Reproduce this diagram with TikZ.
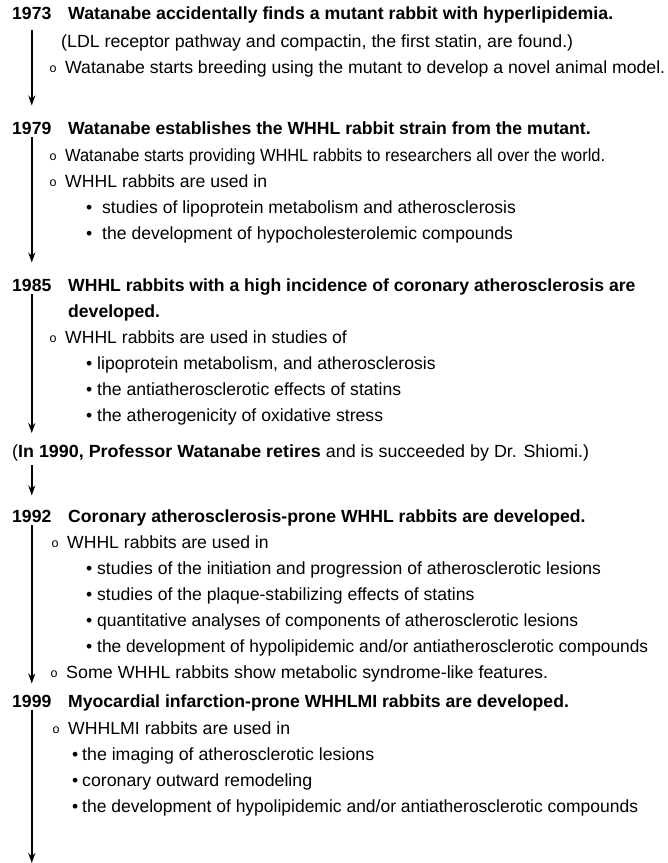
\documentclass[tikz,border=0pt]{standalone}
\usepackage{fontspec}
\setmainfont{Liberation Sans}
\usetikzlibrary{arrows.meta}
\newsavebox\fitbox
% stretch a line to a given width (pt)
\newcommand{\fit}[2]{\sbox\fitbox{#2}\pgfmathsetmacro\fitr{#1/\the\wd\fitbox}\scalebox{\fitr}[1]{\usebox\fitbox}}
\newcommand{\ob}{\llap{\raisebox{1pt}{\fontsize{12.5}{14}\selectfont o}\hspace{8.5pt}}}
\newcommand{\bul}[1]{\llap{•\hspace{#1pt}}}
\begin{document}
\begin{tikzpicture}[x=1pt, y=-1pt,
  every node/.style={anchor=base west, inner sep=0pt, font=\fontsize{17.6}{21}\selectfont},
  yr/.style={font=\fontsize{17.6}{21}\selectfont\bfseries},
  ttl/.style={font=\fontsize{17.6}{21}\selectfont\bfseries},
  arr/.style={line width=1.5pt, -{Stealth[length=10pt, width=7pt]}}]
  \useasboundingbox (0,0) rectangle (668,863);
  % 1973
  \node[yr] (y1973) at (12,19) {1973};
  \node[ttl] (t1973) at (68,19) {\fit{545}{Watanabe accidentally finds a mutant rabbit with hyperlipidemia.}};
  \node (t1973a) at (61,47) {\fit{512}{(LDL receptor pathway and compactin, the first statin, are found.)}};
  \node (t1973b) at (65,73) {\ob\fit{600}{Watanabe starts breeding using the mutant to develop a novel animal model.}};
  % 1979
  \node[yr] (y1979) at (12,134) {1979};
  \node[ttl] (t1979) at (68,134) {Watanabe establishes the WHHL rabbit strain from the mutant.};
  \node (t1979a) at (65,161) {\ob\fit{540}{Watanabe starts providing WHHL rabbits to researchers all over the world.}};
  \node (t1979b) at (65,187) {\ob\fit{202}{WHHL rabbits are used in}};
  \node (t1979c) at (102,213) {\bul{10}studies of lipoprotein metabolism and atherosclerosis};
  \node (t1979d) at (102,239) {\bul{10}the development of hypocholesterolemic compounds};
  % 1985
  \node[yr] (y1985) at (12,291) {1985};
  \node[ttl] (t1985) at (68,291) {WHHL rabbits with a high incidence of coronary atherosclerosis are};
  \node[ttl] (t1985a) at (68,317) {developed.};
  \node (t1985b) at (65,343) {\ob WHHL rabbits are used in studies of};
  \node (t1985c) at (97,369) {\bul{5}lipoprotein metabolism, and atherosclerosis};
  \node (t1985d) at (97,395) {\bul{5}the antiatherosclerotic effects of statins};
  \node (t1985e) at (97,421) {\bul{5}\fit{286}{the atherogenicity of oxidative stress}};
  % 1990
  \node (n1990) at (12,457) {\fit{577}{(\textbf{In 1990, Professor Watanabe retires} and is succeeded by Dr. Shiomi.)}};
  % 1992
  \node[yr] (y1992) at (12,522) {1992};
  \node[ttl] (t1992) at (68,522) {Coronary atherosclerosis-prone WHHL rabbits are developed.};
  \node (t1992a) at (67,548) {\ob WHHL rabbits are used in};
  \node (t1992b) at (97,574) {\bul{5}studies of the initiation and progression of atherosclerotic lesions};
  \node (t1992c) at (97,600) {\bul{5}studies of the plaque-stabilizing effects of statins};
  \node (t1992d) at (97,626) {\bul{5}\fit{481}{quantitative analyses of components of atherosclerotic lesions}};
  \node (t1992e) at (97,652) {\bul{5}\fit{551}{the development of hypolipidemic and/or antiatherosclerotic compounds}};
  \node (t1992f) at (66,678) {\ob\fit{482}{Some WHHL rabbits show metabolic syndrome-like features.}};
  % 1999
  \node[yr] (y1999) at (12,707) {1999};
  \node[ttl] (t1999) at (68,707) {Myocardial infarction-prone WHHLMI rabbits are developed.};
  \node (t1999a) at (68,734) {\ob\fit{222}{WHHLMI rabbits are used in}};
  \node (t1999b) at (82,760) {\bul{4}\fit{292}{the imaging of atherosclerotic lesions}};
  \node (t1999c) at (82,786) {\bul{4}\fit{230}{coronary outward remodeling}};
  \node (t1999d) at (82,812) {\bul{4}\fit{556}{the development of hypolipidemic and/or antiatherosclerotic compounds}};
  \coordinate (bottom) at (0,863);
  % arrows
  \draw[arr, shorten <=11pt, shorten >=16pt] (y1973.south) -- (y1979.north);
  \draw[arr, shorten <=3pt, shorten >=16pt] (y1979.south) -- (y1985.north);
  \draw[arr, shorten <=3pt, shorten >=11pt] (y1985.south) -- (y1985.south |- n1990.north);
  \draw[arr, shorten <=4pt, shorten >=14pt] (y1992.north |- n1990.south) -- (y1992.north);
  \draw[arr, shorten <=3pt, shorten >=11pt] (y1992.south) -- (y1999.north);
  \draw[arr, shorten <=3pt] (y1999.south) -- (y1999.south |- bottom);
\end{tikzpicture}
\end{document}
